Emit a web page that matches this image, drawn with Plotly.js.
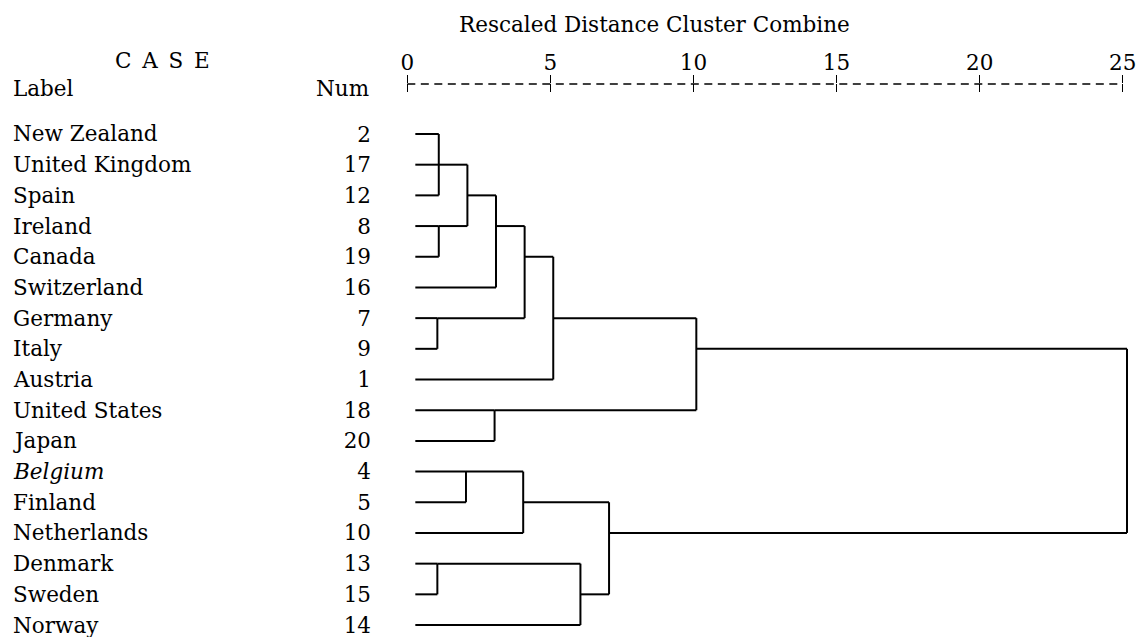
<!DOCTYPE html>
<html>
<head>
<meta charset="utf-8">
<script src="https://cdn.plot.ly/plotly-3.0.1.min.js"></script>
<style>
  html, body { margin: 0; padding: 0; background: #fff; }
  #chart { width: 1138px; height: 637px; }
</style>
</head>
<body>
<div id="chart"></div>
<script>
// ---- data ----
const caseLabels = ['New Zealand','United Kingdom','Spain','Ireland','Canada','Switzerland','Germany','Italy','Austria','United States','Japan','Belgium','Finland','Netherlands','Denmark','Sweden','Norway'];
const caseNums = [2,17,12,8,19,16,7,9,1,18,20,4,5,10,13,15,14];
// merges: children are leaf indices (0..16) or earlier merges (17 + merge index)
const mergeChildren = [[0,1,2],[3,4],[17,18],[19,5],[6,7],[20,21],[22,8],[9,10],[23,24],[11,12],[26,13],[14,15],[28,16],[27,29],[25,30]];
const mergeDistance = [1.1,1.1,2.1,3.1,1.05,4.1,5.1,3.05,10.1,2.05,4.05,1.05,6.05,7.05,25.15];
const axisTicks = [0,5,10,15,20,25];
const axisTickText = ['0','5','10','15','20','25'];
const titleText = 'Rescaled Distance Cluster Combine';

// ---- build dendrogram ----
const leafStart = 0.28;
const nLeaves = caseLabels.length;
const nodeRow = caseLabels.map((_, i) => i);
const nodeStart = caseLabels.map(() => leafStart);
const xs = [], ys = [];
mergeChildren.forEach((ch, m) => {
  const d = mergeDistance[m];
  const rows = ch.map(c => nodeRow[c]);
  ch.forEach(c => {
    xs.push(nodeStart[c], d, null);
    ys.push(nodeRow[c], nodeRow[c], null);
  });
  const r0 = Math.min(...rows), r1 = Math.max(...rows);
  xs.push(d, d, null);
  ys.push(r0, r1, null);
  nodeRow[nLeaves + m] = Math.floor((r0 + r1) / 2);
  nodeStart[nLeaves + m] = d;
});

const FONT = 'DejaVu Serif';
const FS = 21.5;
const INK = '#000';
const italicLabels = ['Belgium'];

const traces = [
  { x: xs, y: ys, type: 'scatter', mode: 'lines', line: { color: INK, width: 2 }, hoverinfo: 'skip', showlegend: false, xaxis: 'x', yaxis: 'y' },
  { x: [0, 25], y: [-5, -5], type: 'scatter', mode: 'markers', marker: { opacity: 0 }, hoverinfo: 'skip', showlegend: false, xaxis: 'x2', yaxis: 'y' }
];

const L = 393, R = 1, T = 84, B = 0, W = 1138, H = 637;
const pw = W - L - R, ph = H - T - B;
const px2paperX = p => (p - L) / pw;
const px2paperY = p => (H - B - p) / ph;

const annotations = caseLabels.map((lab, i) => ({
  text: italicLabels.includes(lab) ? '<i>' + lab + '</i>' : lab,
  xref: 'paper', yref: 'y', x: px2paperX(11), y: i,
  xanchor: 'left', yanchor: 'middle', showarrow: false,
  font: { family: FONT, size: FS, color: INK }
}));
annotations.push(
  { text: 'C\u2002A\u2002S\u2002E', xref: 'paper', yref: 'paper', x: px2paperX(162), y: px2paperY(61), xanchor: 'center', yanchor: 'middle', showarrow: false, font: { family: FONT, size: FS, color: INK } },
  { text: 'Label', xref: 'paper', yref: 'paper', x: px2paperX(11), y: px2paperY(88), xanchor: 'left', yanchor: 'middle', showarrow: false, font: { family: FONT, size: FS, color: INK } },
  { text: 'Num', xref: 'paper', yref: 'paper', x: px2paperX(371), y: px2paperY(88), xanchor: 'right', yanchor: 'middle', showarrow: false, font: { family: FONT, size: FS, color: INK } }
);

const layout = {
  width: W, height: H,
  margin: { l: L, r: R, t: T, b: B, pad: 0 },
  paper_bgcolor: '#fff', plot_bgcolor: '#fff',
  showlegend: false,
  title: { text: titleText, xref: 'container', yref: 'container', x: 459 / W, xanchor: 'left', y: 1 - 24 / H, yanchor: 'middle', font: { family: FONT, size: FS, color: INK } },
  xaxis: {
    range: [-0.5, 25.5], side: 'top', tickvals: axisTicks, ticktext: axisTickText,
    ticks: 'outside', ticklen: 8, tickwidth: 1.5, tickcolor: INK,
    showgrid: false, zeroline: false, showline: false, fixedrange: true,
    tickfont: { family: FONT, size: FS, color: INK }, ticklabelstandoff: -4, ticklabeloverflow: 'allow'
  },
  xaxis2: {
    overlaying: 'x', matches: 'x', anchor: 'y', side: 'top', tickvals: axisTicks,
    ticks: 'inside', ticklen: 8, tickwidth: 1.5, tickcolor: INK, showticklabels: false,
    showgrid: false, zeroline: false, showline: false
  },
  yaxis: {
    range: [16.39, -1.629], tickvals: caseNums.map((_, i) => i), ticktext: caseNums.map(String),
    ticks: '', ticklen: 0, showgrid: false, zeroline: false, showline: false, fixedrange: true,
    tickfont: { family: FONT, size: FS, color: INK }, ticklabelstandoff: 21, ticklabeloverflow: 'allow'
  },
  shapes: [
    { type: 'line', xref: 'x', yref: 'paper', x0: 0, x1: 25, y0: 1, y1: 1, line: { color: INK, width: 1.5, dash: '8px,5.5px' } }
  ],
  annotations: annotations
};

Plotly.newPlot('chart', traces, layout, { displayModeBar: false, staticPlot: true });
</script>
</body>
</html>
